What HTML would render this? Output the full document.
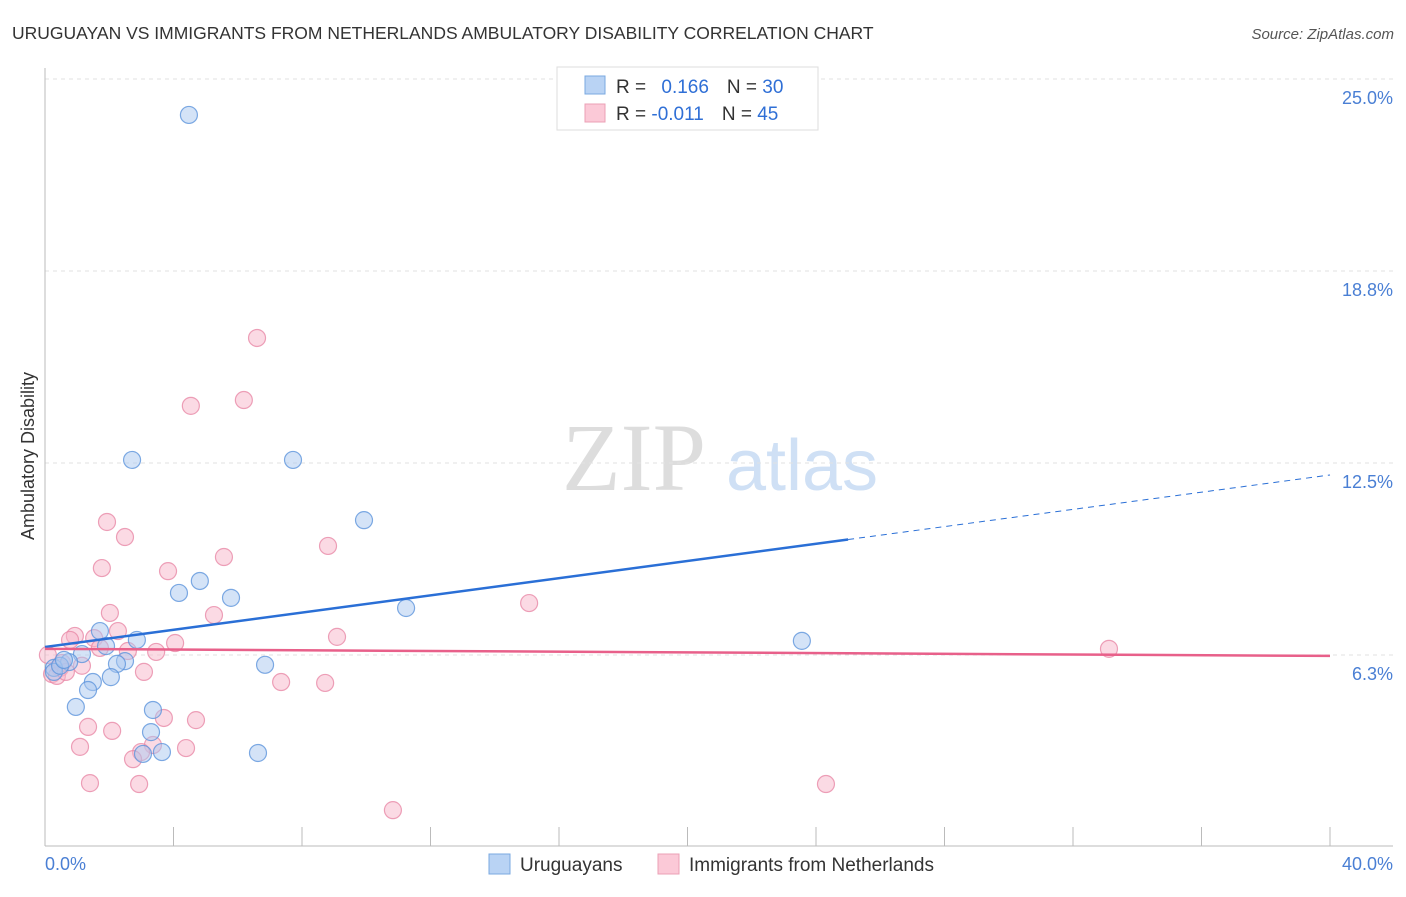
<!DOCTYPE html>
<html><head><meta charset="utf-8"><style>
body{margin:0;background:#fff;font-family:"Liberation Sans",sans-serif}
</style></head><body>
<svg width="1406" height="892" xmlns="http://www.w3.org/2000/svg">
<text x="12" y="39" font-size="17.5" fill="#333">URUGUAYAN VS IMMIGRANTS FROM NETHERLANDS AMBULATORY DISABILITY CORRELATION CHART</text>
<text x="1394" y="39" font-size="15" fill="#555" font-style="italic" text-anchor="end">Source: ZipAtlas.com</text>
<g>
<text x="634" y="490" font-size="96" fill="#ddd" font-family="Liberation Serif,serif" text-anchor="middle">ZIP</text>
<text x="802" y="490" font-size="72" fill="#cfe0f5" text-anchor="middle">atlas</text>
</g>
<g id="grid"></g><g id="axes"></g><g id="marks"></g>
<text transform="translate(34,456) rotate(-90)" font-size="18" fill="#333" text-anchor="middle">Ambulatory Disability</text>
<text x="45" y="870" font-size="18" fill="#4a7fd4">0.0%</text>
<text x="1393" y="870" font-size="18" fill="#4a7fd4" text-anchor="end">40.0%</text>
<g>
<rect x="557" y="67" width="261" height="63" fill="#fff" stroke="#ddd"/>
<rect x="585" y="76" width="20" height="18" fill="#b9d3f4" stroke="#7aa8e0"/>
<rect x="585" y="104" width="20" height="18" fill="#fbc9d7" stroke="#eba0b6"/>
<text x="616" y="93" font-size="19" fill="#333">R = <tspan fill="#2f6fd6" dx="10">0.166</tspan><tspan dx="18" fill="#333">N = </tspan><tspan fill="#2f6fd6">30</tspan></text>
<text x="616" y="120" font-size="19" fill="#333">R = <tspan fill="#2f6fd6">-0.011</tspan><tspan dx="18" fill="#333">N = </tspan><tspan fill="#2f6fd6">45</tspan></text>
</g>
<g>
<rect x="489" y="854" width="21" height="20" fill="#b9d3f4" stroke="#7aa8e0"/>
<text x="520" y="871" font-size="19" fill="#333">Uruguayans</text>
<rect x="658" y="854" width="21" height="20" fill="#fbc9d7" stroke="#eba0b6"/>
<text x="689" y="871" font-size="19" fill="#333">Immigrants from Netherlands</text>
</g>
</svg>
<script>
const yTicks=[25,18.75,12.5,6.25];
const yTickLabels=["25.0%","18.8%","12.5%","6.3%"];
const xTicks=[0,4,8,12,16,20,24,28,32,36,40];
const blueX=[4.48,2.71,7.72,9.93,4.82,4.17,5.79,11.24,23.56,2.86,1.71,1.90,1.15,0.75,2.49,2.24,0.28,6.85,1.49,2.05,1.34,0.96,3.36,3.30,3.64,3.05,6.63,0.28,0.47,0.59];
const blueY=[23.83,12.60,12.60,10.64,8.66,8.27,8.11,7.78,6.71,6.74,7.03,6.54,6.28,6.02,6.05,5.96,5.83,5.93,5.37,5.53,5.11,4.56,4.46,3.74,3.09,3.03,3.06,5.70,5.90,6.09];
const pinkX=[6.60,4.54,6.19,1.93,2.49,1.77,3.83,5.57,8.81,15.07,2.02,5.26,2.27,0.93,0.78,1.53,4.05,9.09,2.58,33.12,3.46,1.15,3.08,0.47,0.22,0.37,7.35,8.72,3.70,4.70,1.34,2.09,1.09,4.39,3.36,2.99,2.74,1.40,2.93,24.31,10.83,0.53,0.09,0.65,1.71];
const pinkY=[16.57,14.36,14.55,10.58,10.09,9.08,8.98,9.44,9.80,7.94,7.62,7.55,7.03,6.87,6.74,6.80,6.64,6.84,6.38,6.45,6.35,5.90,5.70,5.83,5.63,5.57,5.37,5.34,4.20,4.13,3.91,3.78,3.26,3.22,3.32,3.09,2.86,2.08,2.05,2.05,1.20,5.99,6.25,5.70,6.48];
const blueTrend=[6.51,12.11]; const blueSolidEnd=25;
const pinkTrend=[6.45,6.22];
const NS="http://www.w3.org/2000/svg";
const X=v=>45+v*32.125, Y=v=>79+(25-v)*30.72;
function mk(p,tag,a){const e=document.createElementNS(NS,tag);for(const k in a)e.setAttribute(k,a[k]);p.appendChild(e);return e;}
const grid=document.getElementById('grid'),axes=document.getElementById('axes'),marks=document.getElementById('marks');
yTicks.forEach((t,i)=>{
 const l=mk(grid,'line',{x1:45,x2:1393,y1:Y(t),y2:Y(t),stroke:'#e2e2e2','stroke-dasharray':'4,4'});
 
 
 const tx=mk(grid,'text',{x:1393,y:Y(t)+25,'font-size':18,fill:'#4a7fd4','text-anchor':'end'});
 tx.textContent=yTickLabels[i];
 
 
});
const ya=mk(axes,'line',{x1:45,x2:45,y1:68,y2:846,stroke:'#bbb'});


const xa=mk(axes,'line',{x1:45,x2:1393,y1:846,y2:846,stroke:'#bbb'});


xTicks.forEach(t=>{
 const l=mk(axes,'line',{x1:X(t),x2:X(t),y1:827,y2:846,stroke:'#bbb'});
 
 
});
function pts(xs,ys,fill,stroke,name){xs.forEach((x,i)=>{
 const c=mk(marks,'circle',{cx:X(x),cy:Y(ys[i]),r:8.5,fill:fill,'fill-opacity':0.5,stroke:stroke,'stroke-width':1.2,'stroke-opacity':0.8});
 
 
});}
pts(pinkX,pinkY,'#f7b6ca','#e88aa8','netherlands-point');
pts(blueX,blueY,'#a9c8ef','#5e95dc','uruguayan-point');
const bAt=x=>blueTrend[0]+(blueTrend[1]-blueTrend[0])*x/40;
const b1=mk(marks,'line',{x1:X(0),y1:Y(bAt(0)),x2:X(blueSolidEnd),y2:Y(bAt(blueSolidEnd)),stroke:'#2a6fd6','stroke-width':2.5});


const b2=mk(marks,'line',{x1:X(blueSolidEnd),y1:Y(bAt(blueSolidEnd)),x2:X(40),y2:Y(bAt(40)),stroke:'#2a6fd6','stroke-width':1,'stroke-dasharray':'6,5'});


const p1=mk(marks,'line',{x1:X(0),y1:Y(pinkTrend[0]),x2:X(40),y2:Y(pinkTrend[1]),stroke:'#e8608a','stroke-width':2.5});


</script>
</body></html>
